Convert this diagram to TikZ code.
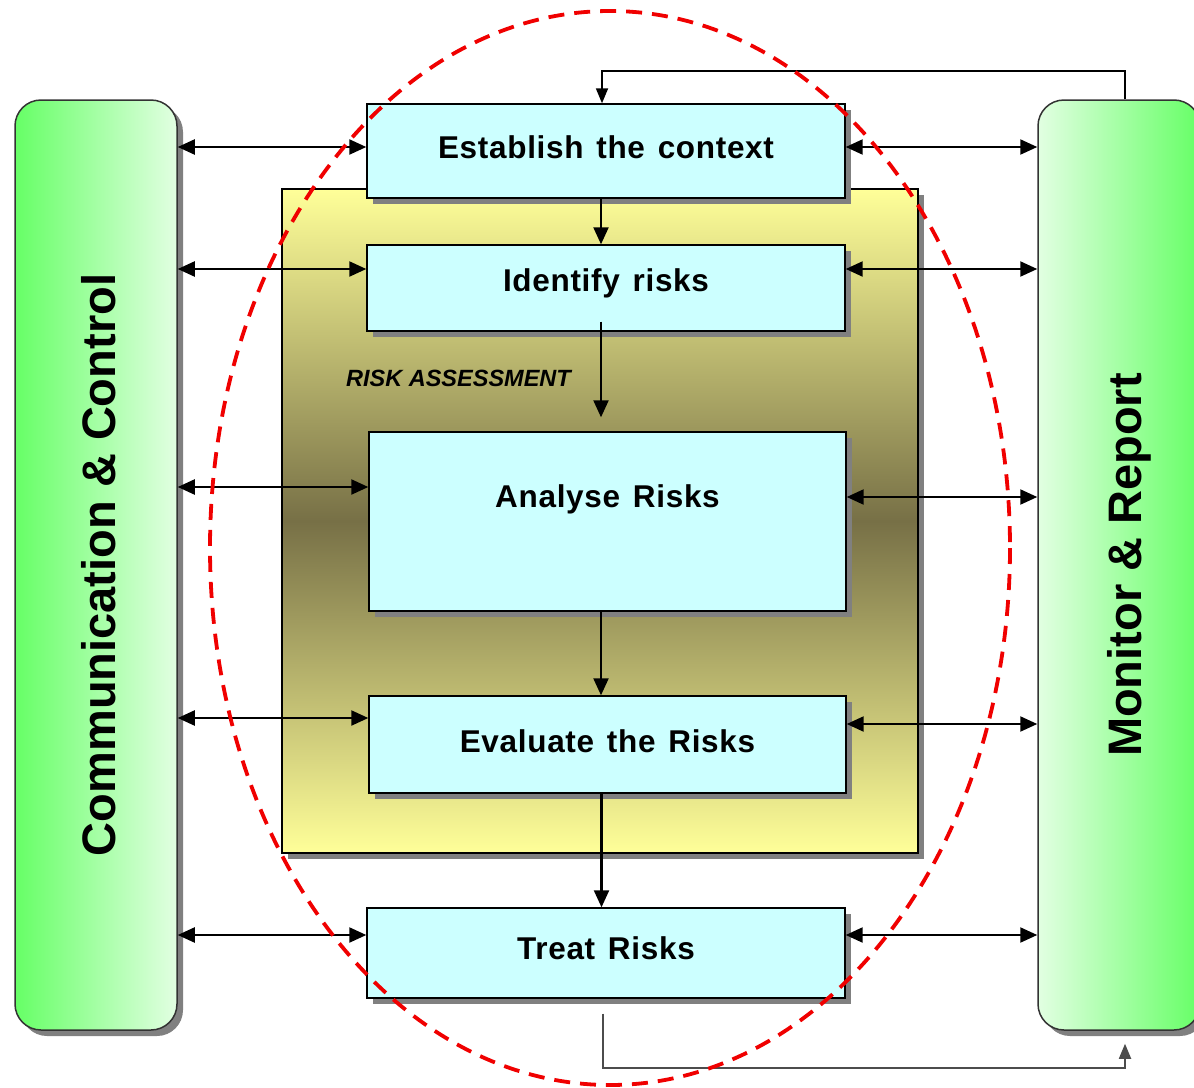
\documentclass[tikz,border=0pt]{standalone}
\usepackage{fontspec}
\setmainfont{Liberation Sans}
\newfontfamily\stepfont{Liberation Sans}[LetterSpace=2.2,WordSpace=1.35]
\usetikzlibrary{arrows.meta,shadows}
\definecolor{cyanbox}{HTML}{CCFFFF}
\definecolor{brightgreen}{HTML}{66FF66}
\definecolor{palegreen}{HTML}{E2FFE2}
\definecolor{ylw}{HTML}{FFFF99}
\definecolor{raolive}{HTML}{777046}
\definecolor{dashred}{HTML}{F00000}
\tikzset{
  shad/.style={drop shadow={shadow xshift=6pt,shadow yshift=-6pt,fill=black!50,opacity=1}},
  stepbox/.style={draw=black,line width=1.4pt,fill=cyanbox,shad,inner sep=0pt},
  steptext/.style={font=\stepfont\bfseries\fontsize{31.5}{36}\selectfont},
  sidebox/.style={draw=black!80,line width=1.5pt,rounded corners=26pt,
    minimum width=162pt,minimum height=930pt,inner sep=0pt,shad},
  dbl/.style={{Triangle[length=17pt,width=15pt]}-{Triangle[length=17pt,width=15pt]},line width=2.2pt},
  arr/.style={-{Triangle[length=17pt,width=15pt]},line width=2.2pt},
  fb/.style={-{Triangle[length=15pt,width=12pt]},line width=1.8pt},
  sidetext/.style={rotate=90,font=\bfseries\fontsize{47}{52}\selectfont}
}
\begin{document}
\begin{tikzpicture}[x=1pt,y=-1pt]
\clip (0,0) rectangle (1194,1087);
\fill[white] (0,0) rectangle (1194,1087);
% side boxes
\node[sidebox,left color=brightgreen,right color=palegreen,
  label={[sidetext,yshift=-3pt]center:Communication \& Control}] (left) at (96,565) {};
\node[sidebox,left color=palegreen,right color=brightgreen,
  label={[sidetext,yshift=-10pt]center:Monitor \& Report}] (right) at (1119,565) {};
% risk assessment area
\node[draw=black,line width=1.5pt,shad,top color=ylw,bottom color=ylw,middle color=raolive,
  minimum width=636pt,minimum height=664pt,inner sep=0pt] (ra) at (600,521) {};
\node[font=\bfseries\itshape\fontsize{23.5}{26}\selectfont,anchor=west,inner sep=0pt] (ratext) at (346,378) {RISK ASSESSMENT};
% steps
\node[stepbox,minimum width=478pt,minimum height=94pt,
  label={[steptext,yshift=4pt]center:Establish the context}] (est) at (606,151) {};
\node[stepbox,minimum width=478pt,minimum height=86pt,
  label={[steptext,yshift=5pt]center:Identify risks}] (ident) at (606,288) {};
\node[stepbox,minimum width=477pt,minimum height=179pt,
  label={[steptext,yshift=22pt]center:Analyse Risks}] (anal) at (607.5,521.5) {};
\node[stepbox,minimum width=477pt,minimum height=97pt,
  label={[steptext,yshift=3pt]center:Evaluate the Risks}] (eval) at (607.5,744.5) {};
\node[stepbox,minimum width=478pt,minimum height=90pt,
  label={[steptext,yshift=5pt]center:Treat Risks}] (treat) at (606,953) {};
% vertical flow
\coordinate (v1) at ([xshift=-5pt]est.south);
\coordinate (v2) at ([xshift=-5pt,yshift=10pt]ident.south);
\coordinate (v3) at ([xshift=-6.5pt]anal.south);
\coordinate (v4) at ([xshift=-6pt]eval.south);
\draw[arr] (v1) -- (v1 |- ident.north);
\draw[arr,shorten >=14pt] (v2) -- (v2 |- anal.north);
\draw[arr] (v3) -- (v3 |- eval.north);
\draw[arr] (v4) -- (v4 |- treat.north);
% left connectors
\coordinate (l1) at ([yshift=4pt]est.west);
\coordinate (l2) at ([yshift=19pt]ident.west);
\coordinate (l3) at ([yshift=34.5pt]anal.west);
\coordinate (l4) at ([yshift=26.5pt]eval.west);
\coordinate (l5) at ([yshift=18pt]treat.west);
\foreach \c in {l1,l2,l3,l4,l5} \draw[dbl] (\c -| left.east) -- (\c);
% right connectors
\coordinate (r1) at ([yshift=4pt]est.east);
\coordinate (r2) at ([yshift=19pt]ident.east);
\coordinate (r3) at ([yshift=24.5pt]anal.east);
\coordinate (r4) at ([yshift=20.5pt]eval.east);
\coordinate (r5) at ([yshift=18pt]treat.east);
\foreach \c in {r1,r2,r3,r4,r5} \draw[dbl] (\c) -- (\c -| right.west);
% feedback loops
\coordinate (rt) at ([xshift=6pt]right.north);
\coordinate (rb) at ([xshift=6pt]right.south);
\coordinate (tb) at ([xshift=-3pt,yshift=-15pt]treat.south);
\coordinate (et) at ([xshift=-4pt]est.north);
\draw[fb] (rt) -- ++(0,-28) -| (et);
\draw[fb,black!70,shorten >=13pt] (tb) |- ++(522,54) -- (rb);
% dashed ellipse
\draw[dashred,line width=3.8pt,dash pattern=on 16pt off 10pt] (610,548) ellipse [x radius=400,y radius=537];
\end{tikzpicture}
\end{document}
